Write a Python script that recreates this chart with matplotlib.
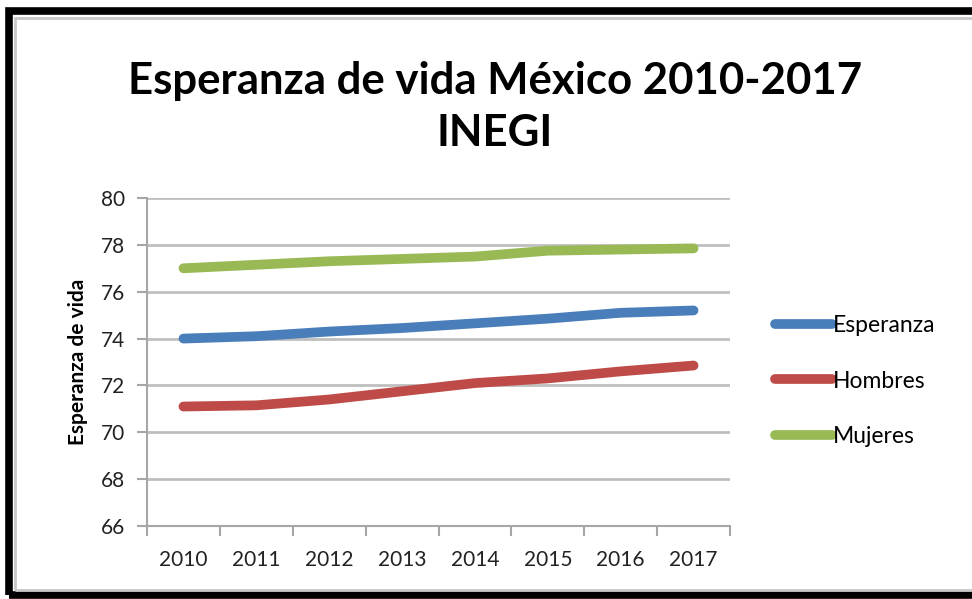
import matplotlib.pyplot as plt
from matplotlib.patches import Rectangle

years = ["2010", "2011", "2012", "2013", "2014", "2015", "2016", "2017"]
esperanza = [74.0, 74.1, 74.3, 74.45, 74.65, 74.85, 75.1, 75.2]
hombres = [71.1, 71.15, 71.4, 71.75, 72.1, 72.3, 72.6, 72.85]
mujeres = [77.0, 77.15, 77.3, 77.4, 77.5, 77.75, 77.8, 77.85]
y_ticks = [66, 68, 70, 72, 74, 76, 78, 80]

plt.rcParams['font.family'] = ['Lato', 'DejaVu Sans']

fig = plt.figure(figsize=(9.72, 5.99), dpi=100)
W, H = 972, 599
ax = fig.add_axes([147 / W, 1 - 526 / H, (730 - 147) / W, (526 - 198) / H])

x = list(range(len(years)))
ax.plot(x, esperanza, color="#4A7EBB", lw=7, solid_capstyle="round", label="Esperanza", zorder=3)
ax.plot(x, hombres, color="#BE4B48", lw=7, solid_capstyle="round", label="Hombres", zorder=3)
ax.plot(x, mujeres, color="#98B954", lw=7, solid_capstyle="round", label="Mujeres", zorder=3)

ax.set_xlim(-0.5, len(years) - 0.5)
ax.set_ylim(66, 80)
ax.set_yticks(y_ticks)
ax.yaxis.grid(True, color="#BFBFBF", lw=2)
ax.set_axisbelow(True)

ax.set_xticks(x)
ax.set_xticklabels(years, fontsize=15, color="#222222")
ax.set_xticks([i - 0.5 for i in range(len(years) + 1)], minor=True)
ax.tick_params(axis="x", which="major", length=0, pad=17)
ax.tick_params(axis="x", which="minor", length=7, width=1.5, color="#A6A6A6", direction="out")
ax.tick_params(axis="y", length=7, width=1.5, color="#A6A6A6", labelsize=15,
               labelcolor="#222222", pad=9)

for side in ["top", "right"]:
    ax.spines[side].set_visible(False)
for side in ["left", "bottom"]:
    ax.spines[side].set_color("#A6A6A6")
    ax.spines[side].set_linewidth(1.5)

ax.set_ylabel("Esperanza de vida", fontsize=15, fontweight="bold", labelpad=9)

fig.text(495 / W, 1 - 107 / H, "Esperanza de vida México 2010-2017\nINEGI",
         ha="center", va="center", fontsize=31.5, fontweight="bold", linespacing=1.38)

fig.legend(loc="center left", bbox_to_anchor=(754 / W, 1 - 381 / H), frameon=False,
           fontsize=16.5, handlelength=2.5, handletextpad=0.05, labelspacing=1.5)

# picture frame
fig.patches.append(Rectangle((9 / W, 4 / H), 1.2, 1 - 15 / H, transform=fig.transFigure,
                             fill=False, ec="black", lw=5.5, zorder=10))
fig.patches.append(Rectangle((15 / W, 9 / H), 1.2, 1 - 27 / H, transform=fig.transFigure,
                             fill=False, ec="#C8C8C8", lw=2, zorder=10))

fig.savefig("out.png", dpi=100)
